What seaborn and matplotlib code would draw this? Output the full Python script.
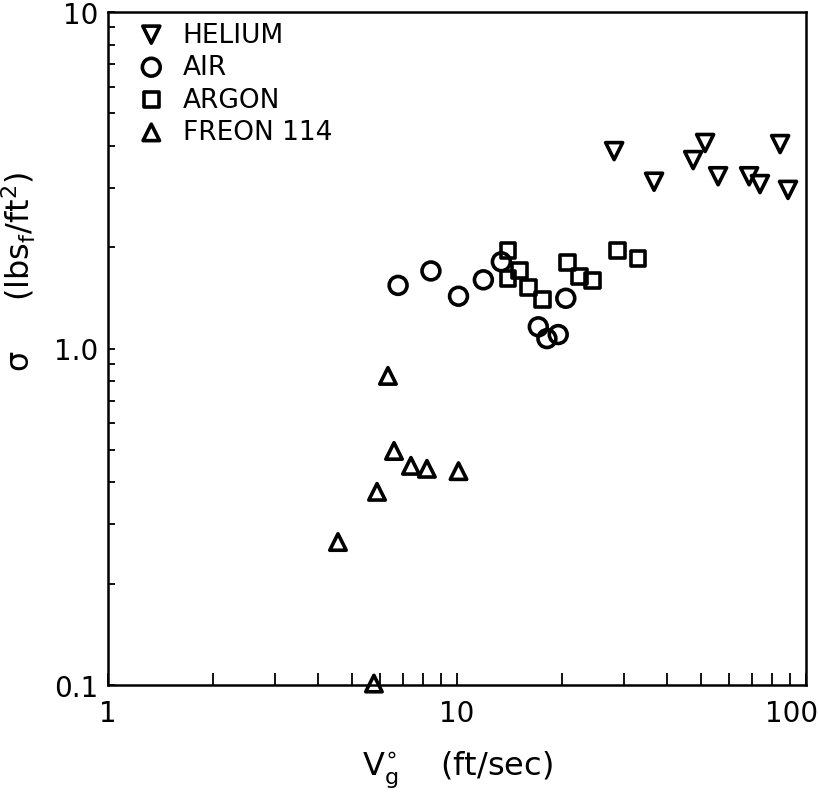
import numpy as np
import pandas as pd
import seaborn as sns
import matplotlib
matplotlib.use("Agg")
import matplotlib.pyplot as plt
import matplotlib.transforms as mtransforms
from matplotlib.ticker import LogLocator, FixedLocator, FixedFormatter, NullFormatter

sns.set_theme(style="white")
plt.rcParams['font.family'] = ['DejaVu Sans']
plt.rcParams['mathtext.default'] = 'regular'

# ---- data ----
gases = ["HELIUM", "AIR", "ARGON", "FREON 114"]

helium_v = [28.2, 36.7, 47.5, 51.4, 56.0, 68.7, 73.8, 84.3, 88.8]
helium_s = [3.86, 3.13, 3.63, 4.08, 3.25, 3.25, 3.08, 4.05, 2.96]

air_v = [6.78, 8.42, 10.1, 11.9, 13.4, 17.1, 18.1, 19.5, 20.5]
air_s = [1.54, 1.70, 1.43, 1.60, 1.81, 1.16, 1.07, 1.10, 1.41]

argon_v = [14.0, 15.1, 14.0, 16.0, 17.6, 20.7, 22.5, 24.5, 28.9, 33.0]
argon_s = [1.96, 1.71, 1.61, 1.52, 1.40, 1.80, 1.64, 1.59, 1.95, 1.85]

freon_v = [6.34, 6.60, 7.38, 8.20, 10.1, 5.90, 4.56, 5.78]
freon_s = [0.829, 0.496, 0.448, 0.439, 0.432, 0.375, 0.266, 0.101]

x_ticklabels = ["1", "10", "100"]
y_ticklabels = ["0.1", "1.0", "10"]

series = {
    "HELIUM": (helium_v, helium_s, "v"),
    "AIR": (air_v, air_s, "o"),
    "ARGON": (argon_v, argon_s, "s"),
    "FREON 114": (freon_v, freon_s, "^"),
}

fig = plt.figure(figsize=(8.2, 8.04), dpi=100)
ax = fig.add_axes([108 / 820, 1 - 686 / 804, (806 - 108) / 820, (686 - 13) / 804])

sizes = {"HELIUM": 150, "AIR": 165, "ARGON": 115, "FREON 114": 140}
for g in gases:
    v, s, m = series[g]
    df = pd.DataFrame({"v": v, "s": s})
    sns.scatterplot(data=df, x="v", y="s", marker=m, s=sizes[g],
                    facecolor="none", edgecolor="black", linewidth=2.6,
                    label=g, ax=ax, clip_on=False, zorder=3)

ax.set_xscale("log")
ax.set_yscale("log")
ax.set_xlim(1, 100)
ax.set_ylim(0.1, 10)

ax.xaxis.set_major_locator(FixedLocator([1, 10, 100]))
ax.xaxis.set_major_formatter(FixedFormatter(x_ticklabels))
ax.yaxis.set_major_locator(FixedLocator([0.1, 1, 10]))
ax.yaxis.set_major_formatter(FixedFormatter(y_ticklabels))
ax.xaxis.set_minor_locator(LogLocator(base=10, subs=np.arange(2, 10)))
ax.yaxis.set_minor_locator(LogLocator(base=10, subs=np.arange(2, 10)))
ax.xaxis.set_minor_formatter(NullFormatter())
ax.yaxis.set_minor_formatter(NullFormatter())

ax.tick_params(axis="x", which="both", direction="in", length=8.5, width=1.3,
               bottom=True, top=False, labelsize=20, pad=10, colors="black")
ax.tick_params(axis="y", which="both", direction="in", length=5, width=1.3,
               left=True, right=False, labelsize=20, pad=7, colors="black")

for sp in ax.spines.values():
    sp.set_color("black")
    sp.set_linewidth(1.8)

ax.set_xlabel(r"$V_g^{\circ}$    (ft/sec)", fontsize=23, color="black", labelpad=16)
ax.set_ylabel(r"$\sigma$     (lbs$_f$/ft$^2$)", fontsize=23, color="black")
ax.yaxis.set_label_coords(-0.1, 0.615)

leg = ax.legend(loc="upper left", frameon=False, fontsize=19, handletextpad=0.69,
                labelspacing=0.25, borderaxespad=0.0, handlelength=1.0,
                bbox_to_anchor=(0.028, 1.0015))
for t in leg.get_texts():
    t.set_color("black")

fig.canvas.draw()
lbls = ax.get_xticklabels()
lbls[-1].set_transform(lbls[-1].get_transform() +
                       mtransforms.ScaledTranslation(-0.14, 0, fig.dpi_scale_trans))

fig.savefig("out.png", dpi=100, facecolor="white")
